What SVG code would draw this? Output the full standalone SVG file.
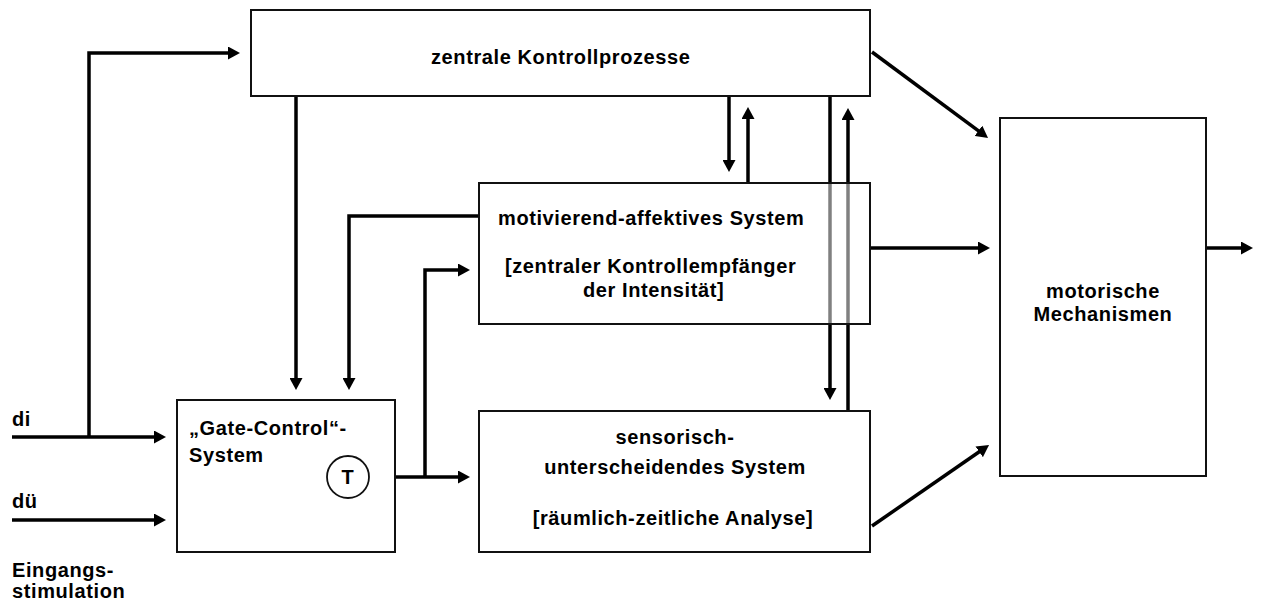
<svg xmlns="http://www.w3.org/2000/svg" width="1264" height="604" viewBox="0 0 1264 604">
  <style>
    .box { fill: #ffffff; stroke: #111111; stroke-width: 2; }
    .box-glass { fill: #ffffff; fill-opacity: 0.5; stroke: #111111; stroke-width: 2; }
    .arrow { fill: none; stroke: #000000; stroke-width: 3.5; marker-end: url(#head); }
    .lbl { font-family: "Liberation Sans", Arial, sans-serif; font-weight: bold; font-size: 20px; letter-spacing: 0.6px; fill: #000000; }
    .mid { text-anchor: middle; }
  </style>
  <defs>
    <marker id="head" markerUnits="userSpaceOnUse" markerWidth="12" markerHeight="13" refX="1" refY="6.5" orient="auto">
      <path d="M0,0 L12,6.5 L0,13 Z" fill="#000000"/>
    </marker>
  </defs>

  <!-- connectors -->
  <g id="connectors">
    <path class="arrow" d="M12,437 H155"/>
    <path class="arrow" d="M12,520 H155"/>
    <path class="arrow" d="M89,437 V53 H229"/>
    <path class="arrow" d="M296,96 V379"/>
    <path class="arrow" d="M479,216 H349 V379"/>
    <path class="arrow" d="M369,477 H459"/>
    <path class="arrow" d="M425,477 V270 H459"/>
    <path class="arrow" d="M729,96 V161"/>
    <path class="arrow" d="M748,183 V118"/>
    <path class="arrow" d="M830,96 V389"/>
    <path class="arrow" d="M848,411 V119"/>
    <path class="arrow" d="M872,52 L979.2,131.4"/>
    <path class="arrow" d="M870,248 H979"/>
    <path class="arrow" d="M872,526 L980,451.3"/>
    <path class="arrow" d="M1206,248 H1242"/>
  </g>

  <!-- central control processes -->
  <g id="zentrale-kontrollprozesse">
    <rect class="box" x="251" y="10" width="619" height="86"/>
    <text class="lbl" x="431" y="64">zentrale Kontrollprozesse</text>
  </g>

  <!-- motivational-affective system (translucent, lines show through) -->
  <g id="motivierend-affektiv">
    <rect class="box-glass" x="479" y="183" width="391" height="141"/>
    <text class="lbl" x="498" y="225">motivierend-affektives System</text>
    <text class="lbl" x="505" y="273">[zentraler Kontrollempfänger</text>
    <text class="lbl" x="583" y="297">der Intensität]</text>
  </g>

  <!-- sensory-discriminative system -->
  <g id="sensorisch-unterscheidend">
    <rect class="box" x="479" y="411" width="391" height="141"/>
    <text class="lbl mid" x="675" y="444">sensorisch-</text>
    <text class="lbl mid" x="675" y="474">unterscheidendes System</text>
    <text class="lbl mid" x="673" y="525">[räumlich-zeitliche Analyse]</text>
  </g>

  <!-- gate control system with transmission cell -->
  <g id="gate-control">
    <rect class="box" x="177" y="400" width="218" height="152"/>
    <text class="lbl" x="189" y="435">„Gate-Control“-</text>
    <text class="lbl" x="189" y="462">System</text>
  </g>
  <g id="t-zelle">
    <circle cx="348" cy="477" r="21" fill="#ffffff" stroke="#111111" stroke-width="1.8"/>
    <text class="lbl mid" x="348" y="484">T</text>
  </g>

  <!-- motor mechanisms -->
  <g id="motorische-mechanismen">
    <rect class="box" x="1000" y="118" width="206" height="358"/>
    <text class="lbl mid" x="1103" y="298">motorische</text>
    <text class="lbl mid" x="1103" y="321">Mechanismen</text>
  </g>

  <!-- input labels -->
  <g id="eingang">
    <text class="lbl" x="12" y="426">di</text>
    <text class="lbl" x="12" y="508">dü</text>
    <text class="lbl" x="12" y="577">Eingangs-</text>
    <text class="lbl" x="12" y="598">stimulation</text>
  </g>
</svg>
